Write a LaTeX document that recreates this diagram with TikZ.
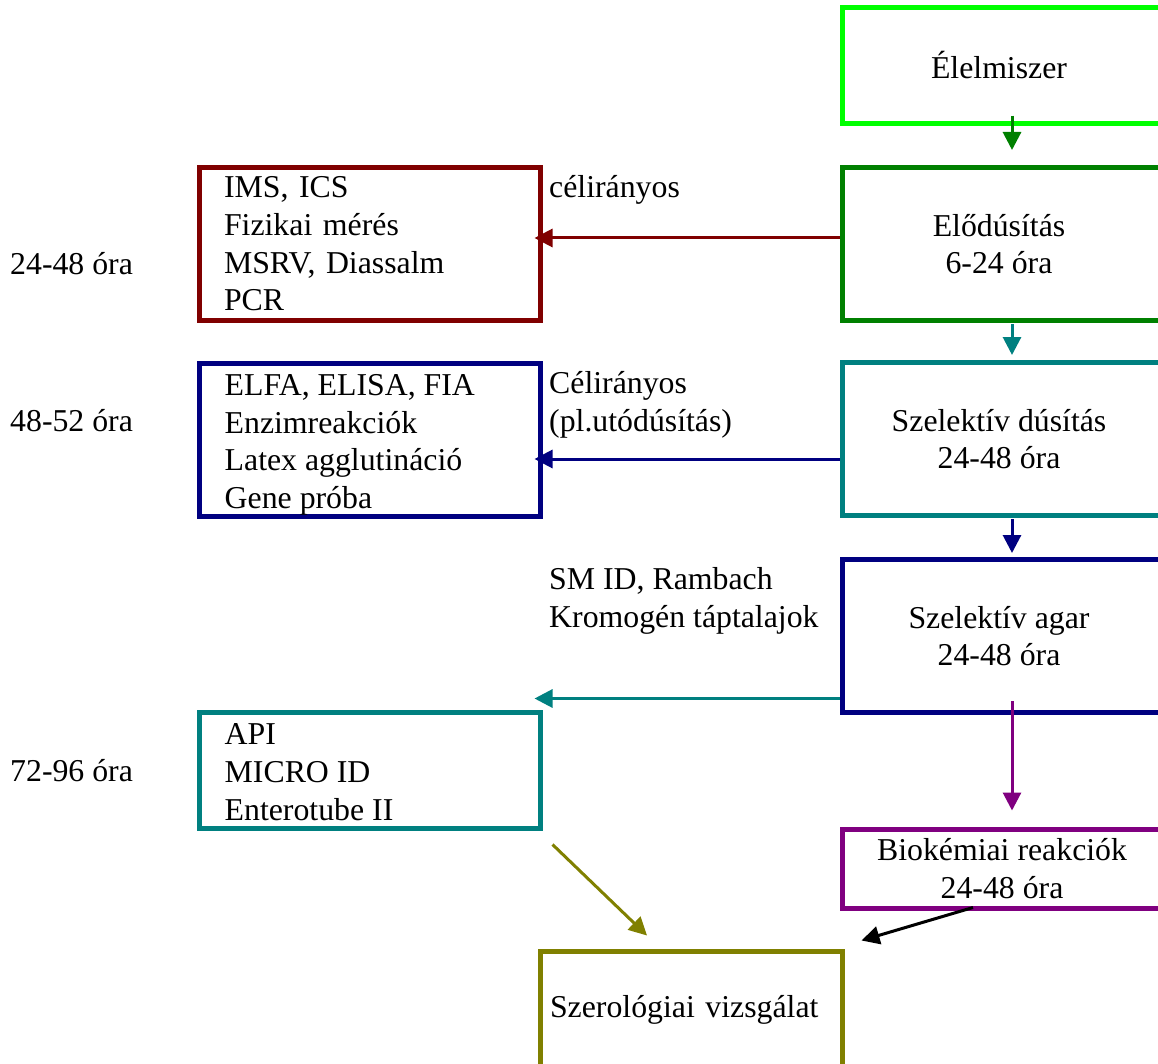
\documentclass[tikz,border=0pt]{standalone}
\usepackage{fontspec}
\setmainfont{Liberation Serif}
\usetikzlibrary{arrows.meta}
\definecolor{cLime}{HTML}{00FF00}
\definecolor{cGreen}{HTML}{008000}
\definecolor{cTeal}{HTML}{008080}
\definecolor{cNavy}{HTML}{000080}
\definecolor{cMaroon}{HTML}{800000}
\definecolor{cPurple}{HTML}{800080}
\definecolor{cOlive}{HTML}{808000}
\begin{document}
\begin{tikzpicture}[x=1pt,y=-1pt,
  every node/.style={font=\fontsize{31.8}{37.7}\selectfont, text=black, inner sep=0pt},
  box/.style={draw, line width=5pt, rectangle},
  rbox/.style={box, minimum width=340pt},
  lbox/.style={box, minimum width=341pt, text width=291pt, inner xsep=25pt, align=left},
  boxtext/.style={label={[xshift=-13pt, align=center]center:#1}},
  side/.style={anchor=west, align=left},
  arr/.style={line width=3pt, -{Triangle[width=18pt,length=18pt]}},
]
\useasboundingbox (0,0) rectangle (1158,1064);
\clip (0,0) rectangle (1158,1064);

% main column on the right
\node[rbox, draw=cLime, minimum height=115.5pt, boxtext={Élelmiszer}] (elel) at (1012,65.5) {};
\node[rbox, draw=cGreen, minimum height=153pt, boxtext={Elődúsítás\\6-24 óra}] (elo) at (1012,244) {};
\node[rbox, draw=cTeal, minimum height=153pt, boxtext={Szelektív dúsítás\\24-48 óra}] (szd) at (1012,439) {};
\node[rbox, draw=cNavy, minimum height=153pt, boxtext={Szelektív agar\\24-48 óra}] (sza) at (1012,636) {};
\node[rbox, draw=cPurple, minimum height=79pt, label={[xshift=-10pt, align=center]center:Biokémiai reakciók\\24-48 óra}] (bio) at (1012,868.5) {};

% rapid methods on the left
\node[lbox, draw=cMaroon, minimum height=152.5pt] (ims) at (369.5,244) {IMS, ICS\\Fizikai mérés\\MSRV, Diassalm\\PCR};
\node[box, draw=cNavy, minimum width=341pt, minimum height=153pt,
      label={[anchor=west, xshift=28pt, yshift=-5pt, align=left]west:ELFA, ELISA, FIA\\Enzimreakciók\\Latex agglutináció\\Gene próba}] (elfa) at (369.5,440) {};
\node[box, draw=cTeal, minimum width=341pt, minimum height=116pt,
      label={[anchor=west, xshift=28pt, yshift=-2pt, align=left]west:API\\MICRO ID\\Enterotube II}] (api) at (369.5,770) {};

% serology
\node[box, draw=cOlive, minimum width=302pt, minimum height=118pt, text width=282pt, inner xsep=10pt, align=left] (sero) at (691,1010) {Szerológiai vizsgálat};

% time labels
\node[anchor=west] (t1) at (10,264) {24-48 óra};
\node[anchor=west] (t2) at (10,421) {48-52 óra};
\node[anchor=west] (t3) at (10,771) {72-96 óra};

% connector labels
\node[side] (s1) at (549,190) {célirányos};
\node[side] (s2) at (549,404.5) {Célirányos\\(pl.utódúsítás)};
\node[side] (s3) at (549,601) {SM ID, Rambach\\Kromogén táptalajok};

% vertical flow
\draw[arr, cGreen] ([yshift=10pt]elel.south) -- ([yshift=15pt]elo.north);
\draw[arr, cTeal] ([yshift=-1pt]elo.south) -- ([yshift=5pt]szd.north);
\draw[arr, cNavy] ([yshift=-1pt]szd.south) -- ([yshift=4pt]sza.north);
\draw[arr, cPurple] ([yshift=14pt]sza.south) -- ([yshift=16pt]bio.north);

% branches to the left
\draw[arr, cMaroon, shorten >=-8pt] ([yshift=6pt]elo.west) -- ([yshift=6pt]ims.east);
\coordinate (nb) at ([yshift=-20pt]szd.west);
\draw[arr, cNavy, shorten >=-8pt] (nb) -- (elfa.east |- nb);
\coordinate (tb) at ([yshift=-62.5pt]sza.west);
\draw[arr, cTeal, shorten >=-8pt] (tb) -- (api.east |- tb);

% towards serology
\draw[arr, cOlive] ([shift={(10pt,-14pt)}]api.south east) -- ([shift={(-44pt,13pt)}]sero.north);
\draw[arr, black] ([shift={(-39pt,3pt)}]bio.south) -- ([shift={(17pt,8pt)}]sero.north east);
\end{tikzpicture}
\end{document}
